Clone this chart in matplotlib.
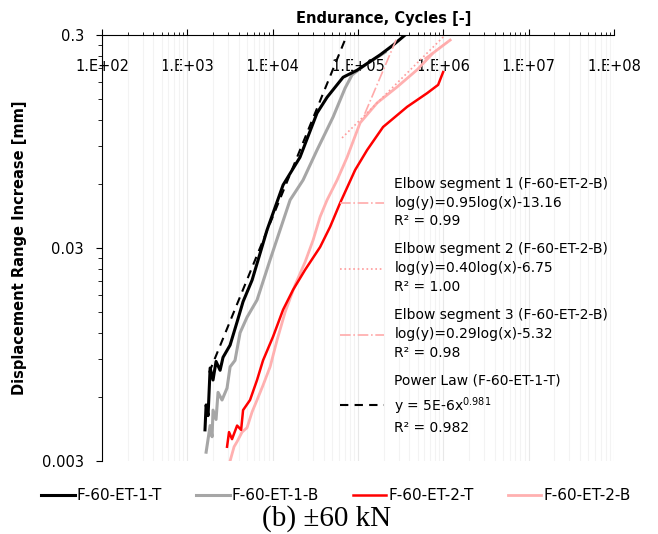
import numpy as np
import matplotlib
matplotlib.use('agg')
import matplotlib.pyplot as plt
from matplotlib.lines import Line2D

plt.rcParams['font.family'] = 'DejaVu Sans'
plt.rcParams['font.size'] = 10

# measured curves (cycles, displacement range increase in mm)
et1t_x = [1610, 1660, 1750, 1850, 2000, 2170, 2420, 2620, 3170, 3830, 4500, 5740,
          8600, 13250, 20900, 33100, 43400, 66900, 97500, 181600, 257800, 356500]
et1t_y = [0.0042, 0.0055, 0.0049, 0.0082, 0.0072, 0.0088, 0.0080, 0.0092, 0.0105, 0.0135,
          0.0168, 0.0212, 0.0365, 0.0593, 0.080, 0.129, 0.153, 0.190, 0.205, 0.242, 0.269, 0.300]

et1b_x = [1660, 1850, 1950, 2000, 2170, 2290, 2550, 2920, 3170, 3620, 4150, 5010,
          6560, 9330, 16000, 22700, 33100, 51000, 70600, 85300, 121200, 208000]
et1b_y = [0.0033, 0.0044, 0.0039, 0.0052, 0.0047, 0.0063, 0.0058, 0.0066, 0.0083, 0.0089,
          0.0120, 0.0142, 0.0171, 0.0264, 0.0504, 0.0625, 0.0865, 0.1235, 0.169, 0.195, 0.217, 0.249]

et2t_x = [2920, 3080, 3340, 3830, 4270, 4500, 5430, 6560, 7710, 10100, 13250, 17350,
          24000, 35950, 47100, 61700, 92500, 127900, 196800, 376400, 646000, 869000, 995000]
et2t_y = [0.0035, 0.0041, 0.0038, 0.0044, 0.0042, 0.0052, 0.0058, 0.0072, 0.0089, 0.0115,
          0.0154, 0.0191, 0.0237, 0.0303, 0.0377, 0.0488, 0.0697, 0.0865, 0.111, 0.138,
          0.160, 0.175, 0.201]

et2b_x = [3170, 3530, 3830, 4380, 5010, 5740, 6560, 7710, 9330, 11270, 14000, 18300,
          24000, 29800, 35950, 43400, 56900, 74500, 105800, 167500, 287000, 493000, 759000, 1202000]
et2b_y = [0.0030, 0.0035, 0.0037, 0.0041, 0.0043, 0.0051, 0.0058, 0.0068, 0.0083, 0.0111,
          0.0150, 0.0201, 0.0258, 0.0327, 0.0420, 0.0504, 0.0625, 0.080, 0.116, 0.144,
          0.171, 0.206, 0.247, 0.284]

# fitted lines, end points
seg1_x, seg1_y = [120000, 280000], [0.128, 0.285]
seg2_x, seg2_y = [65000, 1000000], [0.0986, 0.294]
seg3_x, seg3_y = [600000, 1300000], [0.232, 0.290]
pow_x, pow_y = [1800, 74000], [0.0078, 0.299]

series_names = ['F-60-ET-1-T', 'F-60-ET-1-B', 'F-60-ET-2-T', 'F-60-ET-2-B']
fit_labels = ['Elbow segment 1 (F-60-ET-2-B)\nlog(y)=0.95log(x)-13.16\nR\u00b2 = 0.99',
              'Elbow segment 2 (F-60-ET-2-B)\nlog(y)=0.40log(x)-6.75\nR\u00b2 = 1.00',
              'Elbow segment 3 (F-60-ET-2-B)\nlog(y)=0.29log(x)-5.32\nR\u00b2 = 0.98',
              'Power Law (F-60-ET-1-T)\ny = 5E-6x$^{0.981}$\nR\u00b2 = 0.982']

fig = plt.figure(figsize=(6.58, 5.34), dpi=100)
ax = fig.add_axes([102/658, 1-461/534, 512/658, 426/534])
ax.set_xscale('log')
ax.set_yscale('log')
ax.set_xlim(1e2, 1e8)
ax.set_ylim(0.003, 0.3)

l4, = ax.plot(et2b_x, et2b_y, color='#ffb0b0', lw=2.0, zorder=3)
l3, = ax.plot(et2t_x, et2t_y, color='#ff0000', lw=1.8, zorder=4)
l2, = ax.plot(et1b_x, et1b_y, color='#a6a6a6', lw=2.2, zorder=5)
l1, = ax.plot(et1t_x, et1t_y, color='#000000', lw=2.2, zorder=6)

f1, = ax.plot(seg1_x, seg1_y, color='#ffaaaa', lw=1.2, ls='-.', zorder=7)
f2, = ax.plot(seg2_x, seg2_y, color='#ff9a9a', lw=1.2, ls=':', zorder=7)
f3, = ax.plot(seg3_x, seg3_y, color='#ffaaaa', lw=1.2, ls='-.', zorder=7)
f4, = ax.plot(pow_x, pow_y, color='#000000', lw=1.5, ls=(0, (4, 3)), zorder=7)

# axes styling, mimics the excel chart
ax.spines['bottom'].set_visible(False)
ax.spines['right'].set_visible(False)
ax.xaxis.set_ticks_position('top')
ax.set_xticks([1e2, 1e3, 1e4, 1e5, 1e6, 1e7, 1e8])
ax.set_xticklabels(['1.E+%02d' % p for p in range(2, 9)])
ax.tick_params(axis='x', which='major', direction='out', length=4, labelsize=10.5,
               labeltop=True, labelbottom=False, pad=-32)
ax.tick_params(axis='x', which='minor', direction='out', length=2.5)
ax.set_yticks([0.003, 0.03, 0.3])
ax.set_yticklabels(['0.003', '0.03', '0.3'])
ax.set_yticks([k*0.003 for k in range(2, 10)] + [k*0.03 for k in range(2, 10)], minor=True)
ax.yaxis.set_minor_formatter(matplotlib.ticker.NullFormatter())
ax.tick_params(axis='y', which='major', direction='out', length=4, labelsize=10.5, pad=9)
ax.tick_params(axis='y', which='minor', direction='out', length=3)
ax.grid(True, which='minor', axis='x', color='#f3f3f3', lw=0.8, zorder=0)
ax.grid(True, which='major', axis='x', color='#e8e8e8', lw=0.8, zorder=0)
ax.set_axisbelow(True)

leg = ax.legend([f1, f2, f3, f4], fit_labels, loc='upper left',
                bbox_to_anchor=(232/512, 1-136/426), frameon=False, fontsize=10,
                handlelength=3.2, handletextpad=0.75, labelspacing=1.0, borderaxespad=0)
for t in leg.get_texts():
    t.set_linespacing(1.45)

fig.legend([l1, l2, l3, l4], series_names, loc='center', ncol=4,
           bbox_to_anchor=(336/658, 1-496/534), frameon=False, fontsize=11,
           handlelength=2.2, handletextpad=0.15, columnspacing=2.2)

fig.text(384/658, 1-19/534, 'Endurance, Cycles [-]', fontsize=10.5, fontweight='bold',
         ha='center', va='center')
fig.text(20/658, 1-248/534, 'Displacement Range Increase [mm]', fontsize=10.5,
         fontweight='bold', rotation=90, ha='center', va='center')
fig.text(327/658, 1-519/534, '(b) \u00b160 kN', family='Liberation Serif', fontsize=21,
         ha='center', va='center')

fig.savefig('out.png', dpi=100)
